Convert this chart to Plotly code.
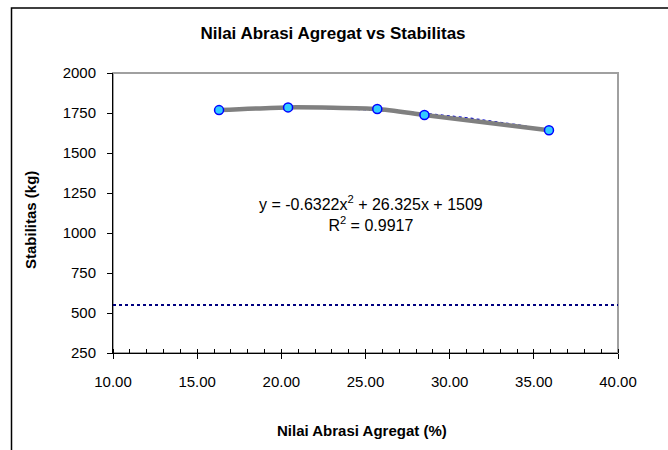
import numpy as np
import plotly.graph_objects as go

# Data
abrasi = [16.3, 20.4, 25.7, 28.5, 35.9]
stabilitas = [1768, 1785, 1775, 1738, 1642]
batas_min = 550
x_ticks = [10, 15, 20, 25, 30, 35, 40]
y_ticks = [250, 500, 750, 1000, 1250, 1500, 1750, 2000]

FONT = "Liberation Sans, Arial, sans-serif"

# polynomial trendline (order 2) from the data
coef = np.polyfit(abrasi, stabilitas, 2)
xt = np.linspace(min(abrasi), max(abrasi), 60)
yt = np.polyval(coef, xt)

fig = go.Figure()
fig.add_trace(go.Scatter(x=[10, 40], y=[batas_min, batas_min], mode="lines",
                         line=dict(color="#000080", width=2, dash="dot"),
                         hoverinfo="skip", showlegend=False))
fig.add_trace(go.Scatter(x=xt, y=yt, mode="lines",
                         line=dict(color="#0000CC", width=2, dash="dot"),
                         showlegend=False))
fig.add_trace(go.Scatter(x=abrasi, y=stabilitas, mode="lines+markers",
                         line=dict(color="#808080", width=4.5, shape="spline", smoothing=0.6),
                         marker=dict(size=9, color="#33CCFF",
                                     line=dict(color="#0000FF", width=1.5)),
                         showlegend=False))

fig.update_layout(
    width=668, height=450,
    margin=dict(l=113, r=50, t=73, b=97),
    paper_bgcolor="white", plot_bgcolor="white",
    font=dict(family=FONT, size=15, color="black"),
    title=dict(text="<b>Nilai Abrasi Agregat vs Stabilitas</b>",
               x=333 / 668, xanchor="center", y=1 - 33 / 450, yanchor="middle",
               font=dict(family=FONT, size=17, color="black")),
    xaxis=dict(range=[10, 40], tickvals=x_ticks, tickformat=".2f",
               showgrid=False, zeroline=False,
               showline=True, linecolor="black", linewidth=1,
               ticks="outside", ticklen=5, tickcolor="black", tickwidth=1,
               ticklabelstandoff=10,
               minor=dict(dtick=1, ticks="inside", ticklen=4, tickcolor="black",
                          showgrid=False),
               tickfont=dict(family=FONT, size=15)),
    yaxis=dict(range=[250, 2000], tickvals=y_ticks, tickformat="d",
               showgrid=False, zeroline=False,
               showline=True, linecolor="black", linewidth=1,
               ticks="outside", ticklen=5, tickcolor="black", tickwidth=1,
               ticklabelstandoff=8,
               tickfont=dict(family=FONT, size=15)),
    shapes=[
        dict(type="rect", xref="paper", yref="paper", x0=0, x1=1, y0=0, y1=1,
             line=dict(color="#A0A0A0", width=2), layer="below"),
        dict(type="rect", xref="paper", yref="paper",
             x0=(11.5 - 113) / 505, x1=2, y0=1 + (73 - 8) / 280, y1=-2,
             line=dict(color="black", width=1.5), layer="below"),
    ],
    annotations=[
        dict(text="y = -0.6322x<sup>2</sup> + 26.325x + 1509<br>R<sup>2</sup> = 0.9917",
             x=25.35, y=1125, xref="x", yref="y", showarrow=False,
             font=dict(family=FONT, size=16, color="black"), align="center"),
        dict(text="<b>Stabilitas (kg)</b>", xref="paper", yref="paper",
             x=(30 - 113) / 505, y=(353 - 220) / 280, textangle=-90,
             showarrow=False, xanchor="center", yanchor="middle",
             font=dict(family=FONT, size=15, color="black")),
        dict(text="<b>Nilai Abrasi Agregat (%)</b>", xref="paper", yref="paper",
             x=(362 - 113) / 505, y=-(430 - 353) / 280,
             showarrow=False, xanchor="center", yanchor="middle",
             font=dict(family=FONT, size=15, color="black")),
    ],
)

fig.write_html("out.html", config={"displayModeBar": False},
               post_script="document.body.style.margin='0';document.body.style.overflow='hidden';")
